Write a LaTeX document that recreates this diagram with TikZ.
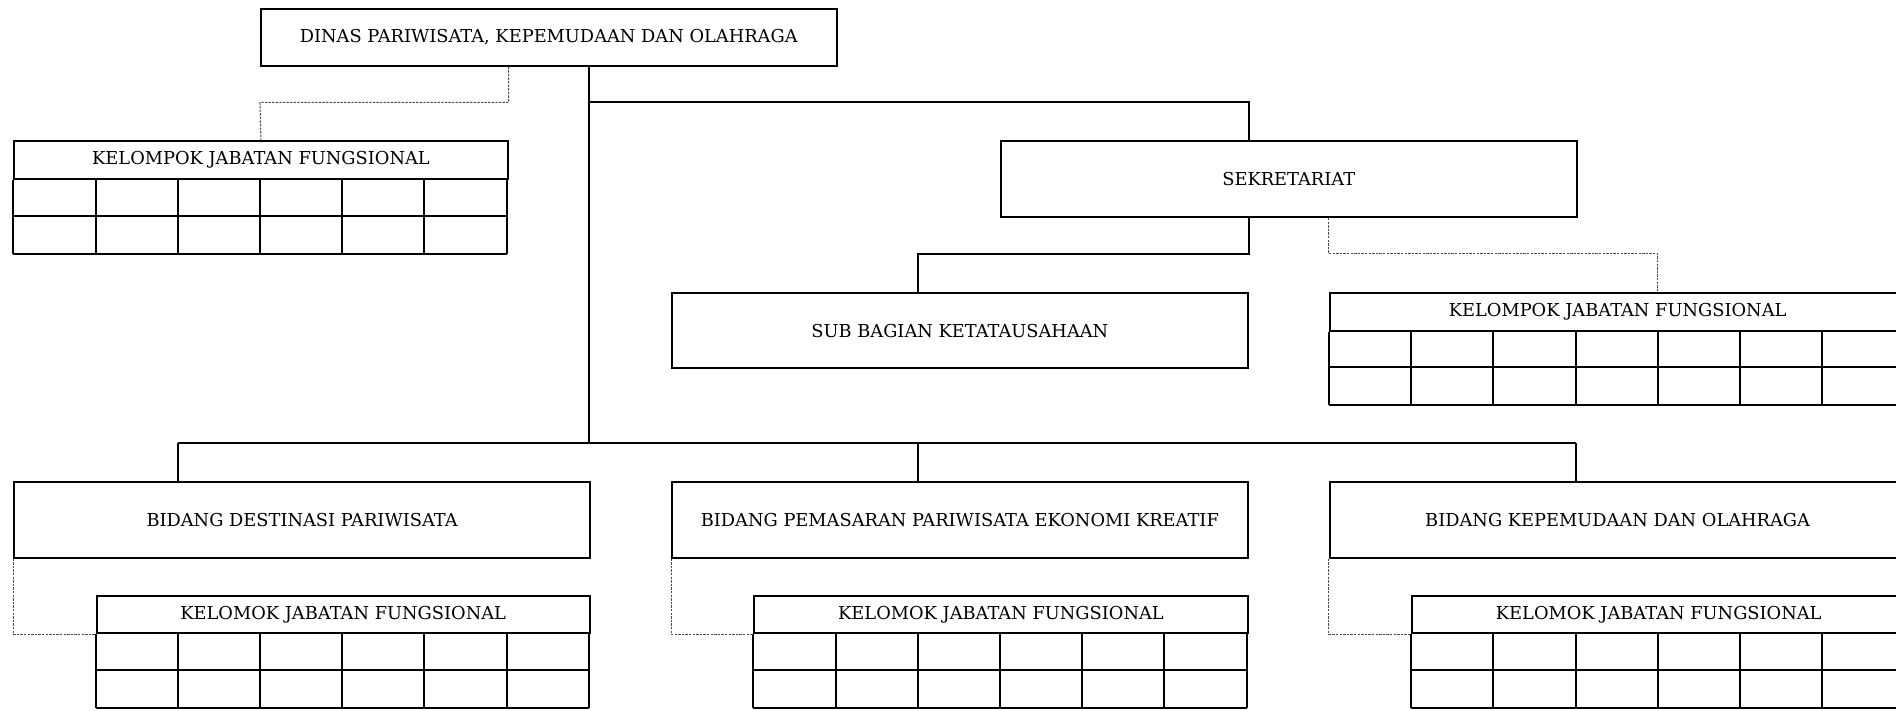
\documentclass[tikz,border=0pt]{standalone}
\usepackage{fontspec}
\setmainfont{DejaVu Serif}
\usetikzlibrary{calc}
% one grid unit: 41.11pt across, 18.925pt down
\tikzset{
  orgunit/.style={draw, line width=1pt, inner sep=0pt, anchor=north west,
    minimum width=#1*41.11pt, font=\fontsize{8.9pt}{10.5pt}\selectfont},
  tallbox/.style={minimum height=37.85pt},
  lowbox/.style={minimum height=18.925pt},
  conn/.style={line width=1pt},
  aux/.style={line width=0.5pt, draw=black!70, dash pattern=on 1.2pt off 0.6pt},
  cellgrid/.style={line width=1pt},
}
\begin{document}
\begin{tikzpicture}[x=41.11pt, y=-18.925pt]
\useasboundingbox (-0.1618,-3.707) rectangle (22.898,15.052);
\clip (-0.1618,-3.707) rectangle (22.898,15.052);

% head office
\node[orgunit=7, minimum height=28.39pt] (top) at (3,-3.5) {DINAS PARIWISATA, KEPEMUDAAN DAN OLAHRAGA};

% functional group under the head office
\node[orgunit=6, lowbox] (kjf1) at (0,0) {KELOMPOK JABATAN FUNGSIONAL};
\draw[cellgrid] (kjf1.south west) grid[xstep=41.11pt, ystep=18.925pt] (6,3);

% secretariat and its units
\node[orgunit=7, tallbox] (sek) at (12,0) {SEKRETARIAT};
\node[orgunit=7, tallbox] (sub) at (8,4) {SUB BAGIAN KETATAUSAHAAN};
\node[orgunit=7, lowbox] (kjf2) at (16,4) {KELOMPOK JABATAN FUNGSIONAL};
\draw[cellgrid] (kjf2.south west) grid[xstep=41.11pt, ystep=18.925pt] (23,7);

% departments
\node[orgunit=7, tallbox] (bid1) at (0,9) {BIDANG DESTINASI PARIWISATA};
\node[orgunit=7, tallbox] (bid2) at (8,9) {BIDANG PEMASARAN PARIWISATA EKONOMI KREATIF};
\node[orgunit=7, tallbox] (bid3) at (16,9) {BIDANG KEPEMUDAAN DAN OLAHRAGA};

% functional groups under the departments
\node[orgunit=6, lowbox] (kel1) at (1,12) {KELOMOK JABATAN FUNGSIONAL};
\draw[cellgrid] (kel1.south west) grid[xstep=41.11pt, ystep=18.925pt] (7,15);
\node[orgunit=6, lowbox] (kel2) at (9,12) {KELOMOK JABATAN FUNGSIONAL};
\draw[cellgrid] (kel2.south west) grid[xstep=41.11pt, ystep=18.925pt] (15,15);
\node[orgunit=6, lowbox] (kel3) at (17,12) {KELOMOK JABATAN FUNGSIONAL};
\draw[cellgrid] (kel3.south west) grid[xstep=41.11pt, ystep=18.925pt] (23,15);

% junction points
\coordinate (br) at (7,-1);
\coordinate (bus) at (7,8);
\coordinate (d1) at (2,8);
\coordinate (d2) at (11,8);
\coordinate (d3) at (19,8);
\coordinate (sk) at (11,3);
\coordinate (sq) at (20,3);
\coordinate (tq) at (3,-1);

% command lines
\draw[conn] (top.south -| bus) -- (bus);
\draw[conn] (br) -| (sek.north -| sub.north east);
\draw[conn] (sek.south -| sub.north east) |- (sk) -- (sub.north -| sk);
\draw[conn] (d1) -- (d3);
\draw[conn] (d1) -- (bid1.north -| d1);
\draw[conn] (d2) -- (bid2.north -| d2);
\draw[conn] (d3) -- (bid3.north -| d3);

% coordination lines
\draw[aux] (top.south -| kjf1.north east) |- (tq) -- (kjf1.north);
\draw[aux] (sek.south -| kjf2.north west) |- (sq) -- (kjf2.north -| sq);
\draw[aux] (bid1.south west) |- (kel1.south west);
\draw[aux] (bid2.south west) |- (kel2.south west);
\draw[aux] (bid3.south west) |- (kel3.south west);
\end{tikzpicture}
\end{document}
